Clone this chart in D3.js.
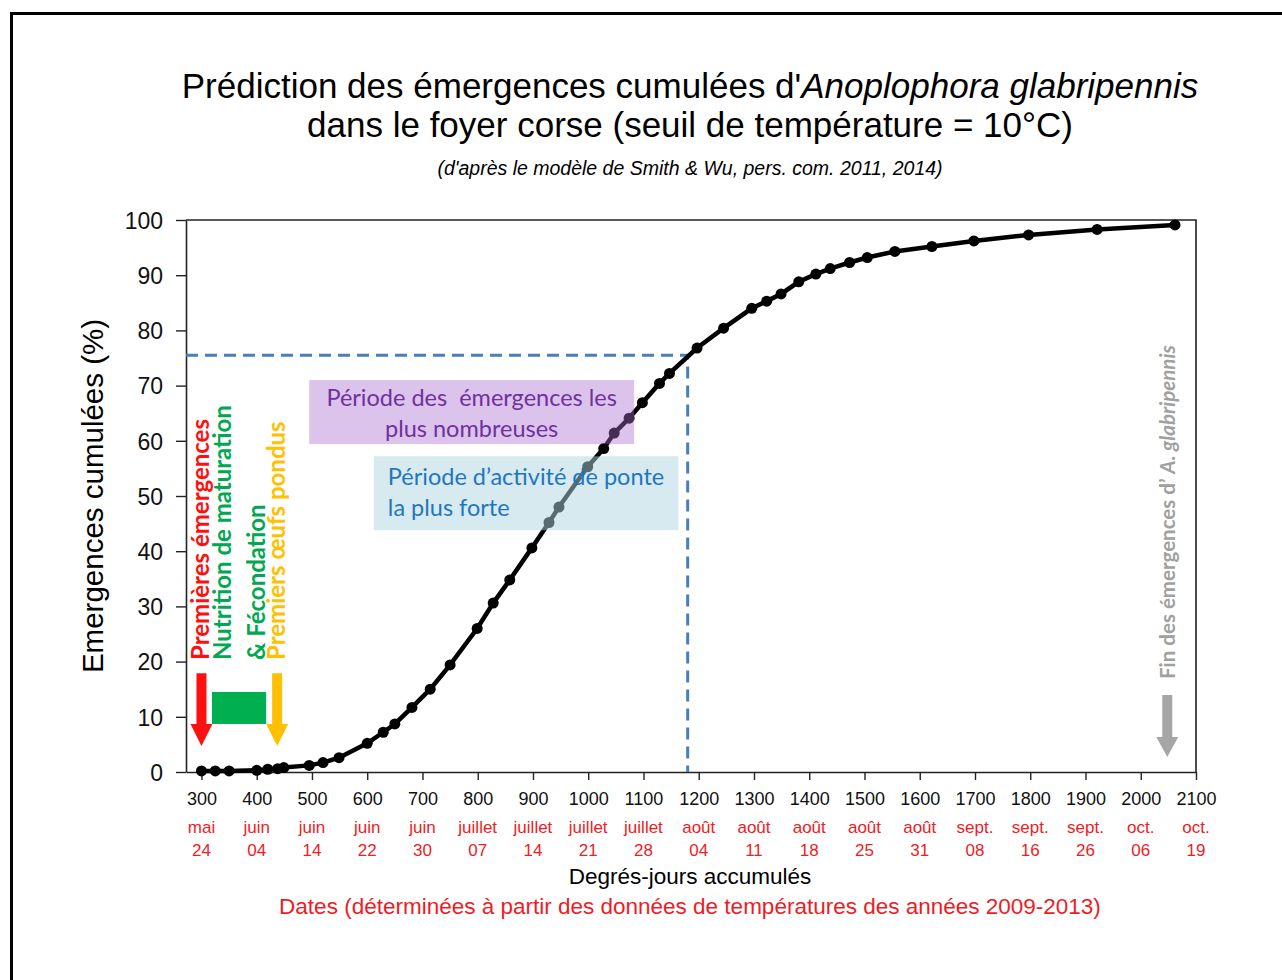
<!DOCTYPE html>
<html>
<head>
<meta charset="utf-8">
<script src="https://cdn.jsdelivr.net/npm/d3@7"></script>
<style>
  body { margin: 0; background: #fff; }
  svg { display: block; }
</style>
</head>
<body>
<div id="chart"></div>
<script>
// degrés-jours accumulés et % d'émergences cumulées
const degreeDays = [300, 325, 350, 400, 420, 438, 449, 495, 520, 549, 600, 629, 650, 681, 714, 750,
  799, 828, 858, 898, 929, 947, 999, 1028, 1047, 1074, 1098, 1129, 1147, 1197, 1245, 1296, 1323,
  1349, 1381, 1412, 1438, 1473, 1505, 1555, 1622, 1698, 1797, 1921, 2062];
const emergence = [0.2, 0.2, 0.2, 0.3, 0.5, 0.6, 0.8, 1.2, 1.7, 2.6, 5.2, 7.2, 8.7, 11.7, 15.0, 19.4,
  26.0, 30.6, 34.8, 40.6, 45.2, 48.0, 55.3, 58.6, 61.4, 64.1, 66.9, 70.4, 72.2, 76.8, 80.4, 84.0, 85.3,
  86.6, 88.8, 90.2, 91.2, 92.3, 93.2, 94.3, 95.2, 96.2, 97.3, 98.3, 99.1];

const xTicks = d3.range(300, 2101, 100);
const yTicks = d3.range(0, 101, 10);
const tickMonths = ["mai", "juin", "juin", "juin", "juin", "juillet", "juillet", "juillet", "juillet",
  "août", "août", "août", "août", "août", "sept.", "sept.", "sept.", "oct.", "oct."];
const tickDays = ["24", "04", "14", "22", "30", "07", "14", "21", "28", "04", "11", "18", "25", "31",
  "08", "16", "26", "06", "19"];

// repère 75 % et périodes
const markDD = 1180, markPct = 75.5;
const firstEmergDD = 300, firstEggsDD = 437, endDD = 2048;
const feedingDD = [319, 417], feedingPct = [8.7, 14.5];
const arrowPct = [17.9, 4.7];
const periodBoxes = [
  { dd: [495, 1083], pct: [59.4, 71.0], fill: "#aa6ecf", op: 0.41, color: "#7030a0",
    lines: ["Période des  émergences les", "plus nombreuses"], anchor: "middle", base: 26 },
  { dd: [612, 1163], pct: [43.8, 57.2], fill: "#aed6e0", op: 0.5, color: "#1f77bf",
    lines: ["Période d\u2019activité de ponte", "la plus forte"], anchor: "start", base: 29 }
];

const W = 1282, H = 980;
const mLeft = 186, mRight = 1196, mTop = 220, mBottom = 772;
const sans = "Liberation Sans, Arial, sans-serif";
const calib = "Lato, 'Open Sans', sans-serif";

const svg = d3.select("#chart").append("svg").attr("width", W).attr("height", H);

// cadre extérieur
svg.append("path").attr("d", `M11.5,${H} V13.5 H${W}`)
  .attr("fill", "none").attr("stroke", "#000").attr("stroke-width", 3);

const x = d3.scaleLinear().domain([272, 2100]).range([mLeft, mRight]);
const y = d3.scaleLinear().domain([0, 100]).range([mBottom, mTop]);

// titres
const title = svg.append("text").attr("x", 690).attr("y", 98).attr("text-anchor", "middle")
  .style("font-family", sans).style("font-size", "35px");
title.append("tspan").text("Prédiction des émergences cumulées d'");
title.append("tspan").style("font-style", "italic").text("Anoplophora glabripennis");
svg.append("text").attr("x", 690).attr("y", 137).attr("text-anchor", "middle")
  .style("font-family", sans).style("font-size", "35px")
  .text("dans le foyer corse (seuil de température = 10°C)");
svg.append("text").attr("x", 690).attr("y", 175).attr("text-anchor", "middle")
  .style("font-family", sans).style("font-size", "19.5px")
  .style("font-style", "italic")
  .text("(d'après le modèle de Smith & Wu, pers. com. 2011, 2014)");

// axes
const xAxis = svg.append("g").attr("transform", `translate(0,${mBottom})`)
  .call(d3.axisBottom(x).tickValues(xTicks).tickSize(8).tickSizeOuter(0).tickFormat(d3.format("d")));
const yAxis = svg.append("g").attr("transform", `translate(${mLeft},0)`)
  .call(d3.axisLeft(y).tickValues(yTicks).tickSize(10).tickSizeOuter(0));
[xAxis, yAxis].forEach(g => {
  g.select(".domain").attr("stroke", "#222").attr("stroke-width", 1.6);
  g.selectAll(".tick line").attr("stroke", "#222").attr("stroke-width", 1.4);
  g.selectAll("text").attr("fill", "#111").style("font-family", sans);
});
xAxis.selectAll("text").style("font-size", "18px").attr("y", 14).attr("dy", "1.05em");
yAxis.selectAll("text").style("font-size", "23px").attr("x", -23).attr("dy", "0.36em");

// bords haut et droit
svg.append("path").attr("d", `M${mLeft},${mTop} H${mRight} V${mBottom}`)
  .attr("fill", "none").attr("stroke", "#222").attr("stroke-width", 1.6);

// dates sous les graduations
const dates = svg.append("g").style("font-family", sans)
  .style("font-size", "17px").attr("fill", "#ee1c25").attr("text-anchor", "middle");
dates.selectAll("text.m").data(xTicks).enter().append("text").attr("class", "m")
  .attr("x", d => x(d)).attr("y", 833).text((d, i) => tickMonths[i]);
dates.selectAll("text.d").data(xTicks).enter().append("text").attr("class", "d")
  .attr("x", d => x(d)).attr("y", 856).text((d, i) => tickDays[i]);

svg.append("text").attr("x", 690).attr("y", 884).attr("text-anchor", "middle")
  .style("font-family", sans).style("font-size", "22.5px")
  .text("Degrés-jours accumulés");
svg.append("text").attr("x", 690).attr("y", 914).attr("text-anchor", "middle")
  .style("font-family", sans).style("font-size", "22.5px")
  .attr("fill", "#ee1c25")
  .text("Dates (déterminées à partir des données de températures des années 2009-2013)");

svg.append("text").attr("transform", "translate(103,496) rotate(-90)").attr("text-anchor", "middle")
  .style("font-family", sans).style("font-size", "29.5px")
  .text("Emergences cumulées (%)");

// ligne pointillée 75 %
svg.append("path")
  .attr("d", `M${mLeft},${y(markPct)} H${x(markDD)} V${mBottom}`)
  .attr("fill", "none").attr("stroke", "#4a7ebb").attr("stroke-width", 3)
  .attr("stroke-dasharray", "12,7");

// courbe
const pts = degreeDays.map((d, i) => [d, emergence[i]]);
svg.append("path").datum(pts)
  .attr("d", d3.line().x(d => x(d[0])).y(d => y(d[1])))
  .attr("fill", "none").attr("stroke", "#000").attr("stroke-width", 4.5);
svg.selectAll("circle.pt").data(pts).enter().append("circle").attr("class", "pt")
  .attr("cx", d => x(d[0])).attr("cy", d => y(d[1])).attr("r", 5.5).attr("fill", "#000");

// encadrés des périodes
periodBoxes.forEach(b => {
  svg.append("rect").attr("x", x(b.dd[0])).attr("y", y(b.pct[1]))
    .attr("width", x(b.dd[1]) - x(b.dd[0])).attr("height", y(b.pct[0]) - y(b.pct[1]))
    .attr("fill", b.fill).attr("fill-opacity", b.op);
  const t = svg.append("text").style("font-family", calib).style("white-space", "pre")
    .style("font-size", "23.5px").attr("fill", b.color).attr("text-anchor", b.anchor);
  const tx = b.anchor === "middle" ? (x(b.dd[0]) + x(b.dd[1])) / 2 : x(b.dd[0]) + 14;
  b.lines.forEach((l, i) => {
    t.append("tspan").attr("x", tx).attr("y", y(b.pct[1]) + b.base + i * 31).text(l);
  });
});

// flèches
function arrow(cx, y0, y1, color, shaft, head, headLen) {
  svg.append("path")
    .attr("d", `M${cx - shaft / 2},${y0} V${y1 - headLen} H${cx - head / 2} L${cx},${y1} L${cx + head / 2},${y1 - headLen} H${cx + shaft / 2} V${y0} Z`)
    .attr("fill", color);
}
arrow(x(firstEmergDD), y(arrowPct[0]), y(arrowPct[1]), "#ff1010", 10, 22, 22);
arrow(x(firstEggsDD), y(arrowPct[0]), y(arrowPct[1]), "#ffc000", 10, 22, 22);
svg.append("rect").attr("x", x(feedingDD[0])).attr("y", y(feedingPct[1]))
  .attr("width", x(feedingDD[1]) - x(feedingDD[0])).attr("height", y(feedingPct[0]) - y(feedingPct[1]))
  .attr("fill", "#00b050");
arrow(x(endDD), 695, 757, "#a6a6a6", 10, 22, 20);

// textes verticaux
const vText = (tx, txt, color) => svg.append("text")
  .attr("transform", `translate(${tx},660) rotate(-90)`)
  .style("font-family", calib).style("font-size", "24px")
  .style("font-weight", "bold").attr("fill", color).text(txt);
vText(209, "Premières émergences", "#ff1010");
vText(231, "Nutrition de maturation", "#00a850");
vText(265, "& Fécondation", "#00a850");
vText(285, "Premiers œufs pondus", "#ffc000");

const endT = svg.append("text").attr("transform", "translate(1175,679) rotate(-90)")
  .style("font-family", calib).style("font-size", "20.5px")
  .style("font-weight", "bold").attr("fill", "#a0a0a0");
endT.append("tspan").text("Fin des émergences d\u2019 ");
endT.append("tspan").style("font-style", "italic").text("A. glabripennis");
</script>
</body>
</html>
